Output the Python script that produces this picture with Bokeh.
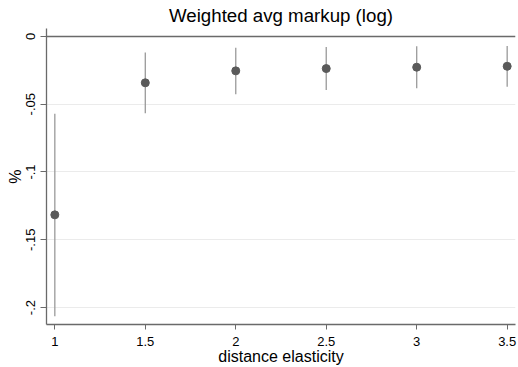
from bokeh.plotting import figure
from bokeh.models import Range1d, FixedTicker, Span
from bokeh.embed import file_html
from bokeh.resources import INLINE

# data
elasticity = [1.0, 1.5, 2.0, 2.5, 3.0, 3.5]
markup = [-0.1316, -0.0342, -0.0254, -0.0237, -0.0227, -0.0220]
ci_upper = [-0.0571, -0.0119, -0.0083, -0.0078, -0.0073, -0.0071]
ci_lower = [-0.2064, -0.0566, -0.0427, -0.0396, -0.0383, -0.0371]

x_ticks = [1.0, 1.5, 2.0, 2.5, 3.0, 3.5]
x_tick_labels = ["1", "1.5", "2", "2.5", "3", "3.5"]
y_ticks = [0.0, -0.05, -0.1, -0.15, -0.2]
y_tick_labels = ["0", "-.05", "-.1", "-.15", "-.2"]

FONT = "Liberation Sans"

p = figure(width=518, height=367, output_backend="svg", toolbar_location=None,
           x_range=Range1d(0.954, 3.546), y_range=Range1d(-0.2125, 0.00586),
           min_border_left=46, min_border_right=3, min_border_top=28,
           min_border_bottom=41)

p.title.text = "Weighted avg markup (log)"
p.title.text_font = FONT
p.title.text_font_size = "18.7px"
p.title.text_font_style = "normal"
p.title.text_color = "#000000"
p.title.align = "center"
p.title.standoff = 5

p.outline_line_color = None
p.background_fill_color = "white"
p.border_fill_color = "white"

# grid
p.xgrid.grid_line_color = None
p.ygrid.ticker = FixedTicker(ticks=y_ticks)
p.ygrid.grid_line_color = "#ebebeb"
p.ygrid.grid_line_width = 1.2

# zero line
p.add_layout(Span(location=0, dimension="width", line_color="#6a6a6a", line_width=1.5))

# error bars and points
p.segment(x0=elasticity, y0=ci_lower, x1=elasticity, y1=ci_upper,
          line_color="#9a9a9a", line_width=1.3)
p.scatter(x=elasticity, y=markup, size=8, fill_color="#5a5a5a", line_color="#5a5a5a")

# x axis
xa = p.xaxis[0]
xa.ticker = FixedTicker(ticks=x_ticks)
xa.major_label_overrides = {t: l for t, l in zip(x_ticks, x_tick_labels)}
xa.axis_label = "distance elasticity"
xa.axis_label_text_font = FONT
xa.axis_label_text_font_size = "16px"
xa.axis_label_text_font_style = "normal"
xa.axis_label_text_color = "#000000"
xa.axis_label_standoff = -1
xa.major_label_text_font = FONT
xa.major_label_text_font_size = "13px"
xa.major_label_text_color = "#000000"
xa.major_label_standoff = 7
xa.major_tick_out = 5
xa.major_tick_in = 0
xa.minor_tick_out = 0
xa.minor_tick_in = 0
xa.axis_line_color = "#6a6a6a"
xa.axis_line_width = 1.3
xa.major_tick_line_color = "#6a6a6a"

# y axis
ya = p.yaxis[0]
ya.ticker = FixedTicker(ticks=y_ticks)
ya.major_label_overrides = {t: l for t, l in zip(y_ticks, y_tick_labels)}
ya.major_label_orientation = "vertical"
ya.axis_label = "%"
ya.axis_label_text_font = FONT
ya.axis_label_text_font_size = "16px"
ya.axis_label_text_font_style = "normal"
ya.axis_label_text_color = "#000000"
ya.axis_label_standoff = 0
ya.major_label_text_font = FONT
ya.major_label_text_font_size = "13px"
ya.major_label_text_color = "#000000"
ya.major_label_standoff = 5
ya.major_tick_out = 6
ya.major_tick_in = 0
ya.minor_tick_out = 0
ya.minor_tick_in = 0
ya.axis_line_color = "#6a6a6a"
ya.axis_line_width = 1.3
ya.major_tick_line_color = "#6a6a6a"

open("out.html", "w").write(file_html(p, INLINE))
